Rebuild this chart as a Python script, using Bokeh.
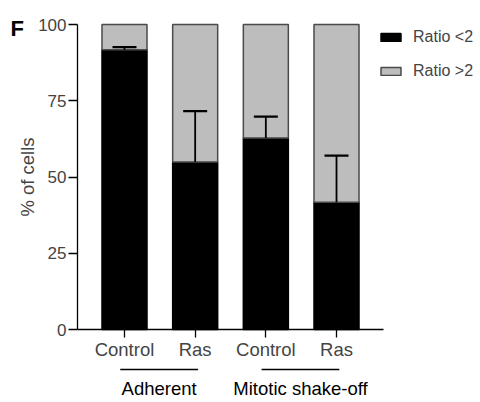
from bokeh.plotting import figure
from bokeh.models import (ColumnDataSource, Range1d, FixedTicker, Whisker, TeeHead,
                          Legend, LegendItem, LinearAxis)
from bokeh.core.properties import value
from bokeh.embed import file_html
from bokeh.resources import INLINE

# ---- data ----
conditions = ["Control", "Ras", "Control", "Ras"]
groups = ["Adherent", "Mitotic shake-off"]
group_members = [[1, 2], [3, 4]]
ratio_lt2 = [91.7, 54.9, 62.8, 41.7]
ratio_gt2 = [8.3, 45.1, 37.2, 58.3]
ratio_lt2_sd = [0.9, 16.7, 7.0, 15.3]
y_ticks = [0, 25, 50, 75, 100]
series_names = ["Ratio <2", "Ratio >2"]
panel_letter = "F"

FONT = "Liberation Sans"
x = [i + 1 for i in range(len(conditions))]

src = ColumnDataSource(dict(
    x=x,
    lt2=ratio_lt2,
    gt2=ratio_gt2,
    lower=ratio_lt2,
    upper=[a + s for a, s in zip(ratio_lt2, ratio_lt2_sd)],
))

PX_X = 70.67   # px per category step
PX_Y = 3.05    # px per percent
FW, FH = 480, 402
x0 = 1 - 124 / PX_X
y0 = -(FH - 329) / PX_Y

p = figure(frame_width=FW, frame_height=FH,
           x_range=Range1d(x0, x0 + FW / PX_X), y_range=Range1d(y0, y0 + FH / PX_Y),
           output_backend="svg", toolbar_location=None,
           x_axis_type=None, y_axis_type=None,
           min_border=0)
p.outline_line_color = None
p.xgrid.visible = False
p.ygrid.visible = False
p.background_fill_color = "white"
p.border_fill_color = "white"

r = p.vbar_stack(["lt2", "gt2"], x="x", width=0.637, source=src,
                 fill_color=["black", "#bdbdbd"],
                 line_color=["black", "#4a4a4a"], line_width=1.5)

wh = Whisker(base="x", lower="lower", upper="upper", source=src,
             line_color="black", line_width=1.8,
             upper_head=TeeHead(size=24, line_color="black", line_width=2.2),
             lower_head=None, level="overlay")
p.add_layout(wh)

x_axis_pos = 1 - 47 / PX_X

# y axis
yax = LinearAxis(fixed_location=x_axis_pos)
yax.ticker = FixedTicker(ticks=y_ticks)
yax.bounds = (0, 100)
yax.axis_label = "% of cells"
yax.axis_label_text_font = FONT
yax.axis_label_text_font_size = "18.5px"
yax.axis_label_text_font_style = "normal"
yax.axis_label_standoff = -3
yax.major_label_text_font = FONT
yax.major_label_text_font_size = "17px"
yax.major_label_standoff = 2
yax.major_tick_out = 9
yax.major_tick_in = 0
yax.minor_tick_out = 0
yax.minor_tick_in = 0
yax.axis_line_width = 1.3
yax.major_tick_line_width = 1.3
p.add_layout(yax, "left")

# x axis
xax = LinearAxis(fixed_location=0)
xax.ticker = FixedTicker(ticks=x)
xax.major_label_overrides = {xi: c for xi, c in zip(x, conditions)}
xax.bounds = (x_axis_pos, len(conditions) + (1 - x_axis_pos))
xax.major_label_text_font = FONT
xax.major_label_text_font_size = "18.5px"
xax.major_label_standoff = 1
xax.major_tick_out = 8
xax.major_tick_in = 0
xax.minor_tick_out = 0
xax.minor_tick_in = 0
xax.axis_line_width = 1.3
xax.major_tick_line_width = 1.3
p.add_layout(xax, "below")

# group annotations (underline + label)
gx0 = [min(m) - 0.06 for m in group_members]
gx1 = [max(m) + 0.04 for m in group_members]
gxc = [(a + b) / 2 for a, b in zip(gx0, gx1)]
line_y = -(369 - 329) / PX_Y
label_y = -(388 - 329) / PX_Y
p.segment(x0=gx0, y0=[line_y] * len(groups), x1=gx1, y1=[line_y] * len(groups),
          line_color="black", line_width=1.3)
p.text(x=gxc, y=[label_y] * len(groups), text=groups, text_align="center",
       text_baseline="middle", text_font=value(FONT), text_font_size="18.5px",
       text_color="black")

# panel letter
p.text(x=[1 + (10 - 124) / PX_X], y=[(329 - 28) / PX_Y], text=[panel_letter],
       text_font=value(FONT), text_font_style="bold", text_font_size="22px",
       text_baseline="alphabetic", text_align="left", text_color="black")

legend = Legend(items=[LegendItem(label=series_names[0], renderers=[r[0]]),
                       LegendItem(label=series_names[1], renderers=[r[1]])],
                location=(378, 321), orientation="vertical",
                glyph_width=25, glyph_height=10, label_height=20,
                spacing=14, padding=0, margin=0, label_standoff=10,
                label_text_font=FONT, label_text_font_size="16px",
                border_line_color=None, background_fill_alpha=0)
p.add_layout(legend, "center")

open("out.html", "w").write(file_html(p, INLINE))
